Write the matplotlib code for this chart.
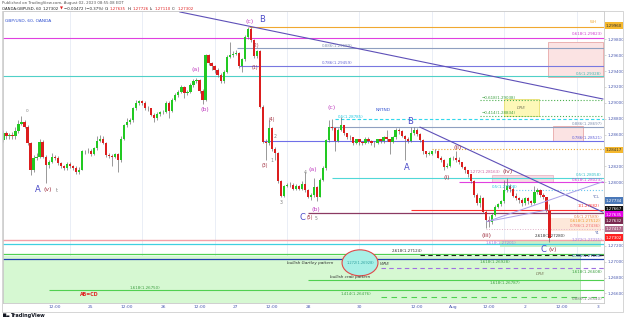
import numpy as np
import matplotlib
matplotlib.use("Agg")
import matplotlib.pyplot as plt
from matplotlib.patches import Rectangle, Ellipse

# ---------------- data (GBP/USD 60 min, OANDA) ----------------
open_first = 1.2853
closes = [1.2862, 1.2858, 1.2860, 1.2858, 1.2864, 1.2874, 1.2876, 1.2870, 1.2849, 1.2816,
          1.2831, 1.2832, 1.2851, 1.2832, 1.2822, 1.2826, 1.2832, 1.2831, 1.2824, 1.2820,
          1.2818, 1.2823, 1.2820, 1.2818, 1.2813, 1.2816, 1.2839, 1.2839, 1.2840, 1.2836,
          1.2843, 1.2852, 1.2855, 1.2850, 1.2834, 1.2833, 1.2832, 1.2835, 1.2828, 1.2855,
          1.2872, 1.2876, 1.2878, 1.2893, 1.2900, 1.2902, 1.2900, 1.2893, 1.2893, 1.2885,
          1.2881, 1.2886, 1.2888, 1.2889, 1.2900, 1.2890, 1.2904, 1.2910, 1.2914, 1.2920,
          1.2912, 1.2914, 1.2923, 1.2928, 1.2929, 1.2915, 1.2904, 1.2960, 1.2950, 1.2946,
          1.2941, 1.2935, 1.2927, 1.2939, 1.2958, 1.2960, 1.2962, 1.2963, 1.2946, 1.2955,
          1.2983, 1.2993, 1.2979, 1.2959, 1.2965, 1.2895, 1.2851, 1.2849, 1.2868, 1.2842,
          1.2837, 1.2801, 1.2783, 1.2795, 1.2796, 1.2797, 1.2791, 1.2795, 1.2791, 1.2798,
          1.2790, 1.2781, 1.2784, 1.2794, 1.2782, 1.2803, 1.2818, 1.2853, 1.2870, 1.2868,
          1.2852, 1.2866, 1.2872, 1.2862, 1.2857, 1.2857, 1.2849, 1.2854, 1.2851, 1.2849,
          1.2855, 1.2852, 1.2849, 1.2850, 1.2854, 1.2852, 1.2857, 1.2854, 1.2851, 1.2857,
          1.2866, 1.2865, 1.2858, 1.2854, 1.2852, 1.2862, 1.2866, 1.2861, 1.2853, 1.2839,
          1.2836, 1.2836, 1.2839, 1.2840, 1.2831, 1.2828, 1.2819, 1.2821, 1.2830, 1.2831,
          1.2828, 1.2825, 1.2819, 1.2815, 1.2810, 1.2801, 1.2784, 1.2774, 1.2780, 1.2763,
          1.2753, 1.2750, 1.2759, 1.2769, 1.2773, 1.2776, 1.2790, 1.2795, 1.2792, 1.2783,
          1.2780, 1.2778, 1.2774, 1.2780, 1.2776, 1.2774, 1.2788, 1.2790, 1.2784, 1.2781,
          1.27635, 1.27302]
highs = [1.2866, 1.2864, 1.2862, 1.2863, 1.2870, 1.2878, 1.2883, 1.2878, 1.2872, 1.2851,
         1.2834, 1.2837, 1.2855, 1.2853, 1.2834, 1.2828, 1.2837, 1.2834, 1.2833, 1.2826,
         1.2822, 1.2825, 1.2825, 1.2822, 1.2820, 1.2819, 1.2841, 1.2841, 1.2843, 1.2842,
         1.2845, 1.2858, 1.2860, 1.2858, 1.2851, 1.2837, 1.2836, 1.2837, 1.2837, 1.2858,
         1.2874, 1.2881, 1.2881, 1.2895, 1.2904, 1.2904, 1.2904, 1.2902, 1.2896, 1.2894,
         1.2887, 1.2888, 1.2890, 1.2891, 1.2902, 1.2902, 1.2906, 1.2913, 1.2916, 1.2922,
         1.2921, 1.2916, 1.2925, 1.2930, 1.2931, 1.2930, 1.2917, 1.2962, 1.2962, 1.2952,
         1.2948, 1.2944, 1.2937, 1.2941, 1.2960, 1.2977, 1.2965, 1.2966, 1.2964, 1.2957,
         1.2986, 1.2996, 1.2995, 1.2981, 1.2967, 1.2967, 1.2897, 1.2855, 1.2878, 1.2870,
         1.2845, 1.2838, 1.2803, 1.2797, 1.2799, 1.2800, 1.2799, 1.2798, 1.2797, 1.2801,
         1.2813, 1.2791, 1.2786, 1.2805, 1.2795, 1.2805, 1.2821, 1.2855, 1.2879, 1.2880,
         1.2870, 1.2868, 1.2882, 1.2872, 1.2862, 1.2860, 1.2857, 1.2855, 1.2855, 1.2852,
         1.2857, 1.2857, 1.2853, 1.2852, 1.2855, 1.2855, 1.2858, 1.2866, 1.2855, 1.2858,
         1.2868, 1.2868, 1.2866, 1.2860, 1.2857, 1.2870, 1.2870, 1.2868, 1.2862, 1.2854,
         1.2840, 1.2839, 1.2840, 1.2842, 1.2841, 1.2833, 1.2829, 1.2824, 1.2832, 1.2833,
         1.2840, 1.2832, 1.2826, 1.2821, 1.2816, 1.2811, 1.2803, 1.2786, 1.2784, 1.2782,
         1.2765, 1.2757, 1.2761, 1.2771, 1.2774, 1.2778, 1.2803, 1.2805, 1.2798, 1.2794,
         1.2786, 1.2782, 1.2780, 1.2782, 1.2782, 1.2778, 1.2795, 1.2793, 1.2791, 1.2786,
         1.2782, 1.27726]
lows = [1.2851, 1.2855, 1.2855, 1.2854, 1.2855, 1.2862, 1.2872, 1.2868, 1.2847, 1.2809,
        1.2813, 1.2828, 1.2830, 1.2830, 1.2799, 1.2818, 1.2824, 1.2828, 1.2822, 1.2818,
        1.2816, 1.2816, 1.2818, 1.2816, 1.2811, 1.2811, 1.2815, 1.2836, 1.2837, 1.2833,
        1.2834, 1.2841, 1.2851, 1.2848, 1.2832, 1.2830, 1.2820, 1.2830, 1.2813, 1.2826,
        1.2853, 1.2870, 1.2874, 1.2876, 1.2891, 1.2897, 1.2897, 1.2891, 1.2890, 1.2883,
        1.2876, 1.2879, 1.2884, 1.2886, 1.2887, 1.2881, 1.2889, 1.2902, 1.2908, 1.2912,
        1.2906, 1.2910, 1.2912, 1.2920, 1.2925, 1.2913, 1.2899, 1.2902, 1.2948, 1.2942,
        1.2938, 1.2933, 1.2925, 1.2925, 1.2937, 1.2956, 1.2958, 1.2960, 1.2944, 1.2939,
        1.2953, 1.2981, 1.2977, 1.2956, 1.2957, 1.2893, 1.2849, 1.2828, 1.2847, 1.2840,
        1.2828, 1.2799, 1.2781, 1.2782, 1.2794, 1.2794, 1.2790, 1.2790, 1.2790, 1.2790,
        1.2788, 1.2780, 1.2778, 1.2782, 1.2776, 1.2781, 1.2801, 1.2815, 1.2851, 1.2866,
        1.2839, 1.2851, 1.2865, 1.2860, 1.2855, 1.2853, 1.2847, 1.2848, 1.2847, 1.2847,
        1.2848, 1.2850, 1.2847, 1.2845, 1.2848, 1.2850, 1.2850, 1.2852, 1.2836, 1.2850,
        1.2855, 1.2861, 1.2857, 1.2828, 1.2849, 1.2851, 1.2860, 1.2858, 1.2851, 1.2836,
        1.2832, 1.2834, 1.2834, 1.2837, 1.2830, 1.2826, 1.2816, 1.2818, 1.2819, 1.2828,
        1.2826, 1.2823, 1.2818, 1.2812, 1.2807, 1.2799, 1.2782, 1.2771, 1.2769, 1.2761,
        1.2742, 1.2744, 1.2748, 1.2757, 1.2767, 1.2770, 1.2774, 1.2788, 1.2788, 1.2781,
        1.2778, 1.2774, 1.2770, 1.2771, 1.2773, 1.2771, 1.2773, 1.2785, 1.2782, 1.2779,
        1.2763, 1.2725]

time_tick_bars = [17, 29, 41, 53, 65, 77, 89, 101, 118, 137, 149, 161, 173, 185, 197]
time_tick_labels = ["12:00", "25", "12:00", "26", "12:00", "27", "12:00", "28", "30",
                    "12:00", "Aug", "12:00", "2", "12:00", "3"]
session_bars = [22, 46, 70, 94, 118, 142, 166, 190]
price_ticks = [1.298, 1.296, 1.294, 1.292, 1.290, 1.288, 1.286, 1.282, 1.280,
               1.272, 1.270, 1.268, 1.266]

# horizontal drawing levels (price) and where they start (bar index)
level_prices = [1.29960, 1.29823, 1.29689, 1.29459, 1.29339, 1.29038, 1.28834, 1.28797,
                1.28697, 1.28524, 1.28417, 1.28050, 1.28008, 1.27903, 1.27651, 1.27613,
                1.27412, 1.27278, 1.27220, 1.27100, 1.27038, 1.27080, 1.26925, 1.26770,
                1.26644, 1.26556]
level_start_bars = [81.5, -1, 77.5, 78, -1, 158, 158, 110, 108, 86, 142, 109, 151, 166,
                    135, 101, 160, -1, -1, -1, -1, 138, 125, 101, 15, 125]
level_styles = [('#f0a830', '-', 0.8), ('#e040e0', '-', 0.8), ('#8fa0c0', '-', 0.8),
                ('#7878e0', '-', 0.8), ('#50d0c8', '-', 0.8), ('#4caf50', ':', 0.8),
                ('#4caf50', ':', 0.8), ('#30d8ec', (0, (3, 2)), 0.8), ('#8fa0c0', '-', 0.8),
                ('#6f6fe8', '-', 0.8), ('#f0a830', ':', 0.8), ('#50d8d8', '-', 0.8),
                ('#e040e0', '-', 0.8), ('#70c8f0', ':', 0.8), ('#ff3030', '-', 0.8),
                ('#8b3a62', '-', 0.9), ('#e0b0c8', ':', 0.7), ('#f4a0a8', '-', 1.0),
                ('#40d0e0', '-', 0.9), ('#50d050', '-', 0.9), ('#2040b0', '-', 0.9),
                ('#202020', (0, (4, 3)), 0.8), ('#a070e0', (0, (4, 3)), 0.8),
                ('#50d050', '-', 0.8), ('#50d050', '-', 0.8), ('#50d050', (0, (5, 4)), 0.8)]

# trend lines: (bar0, price0, bar1, price1)
trend_lines = [(58.5, 1.30145, 198.7, 1.29049),
               (138.1, 1.28694, 198.7, 1.27624),
               (160.3, 1.27505, 198.7, 1.28008),
               (160.3, 1.27505, 180.2, 1.27651)]
trend_styles = [('#5e50b8', 0.8), ('#5e50b8', 0.8), ('#a8a0e8', 0.7), ('#a8a0e8', 0.7)]

# zones: (bar0, bar1, price_low, price_high)
zones = [(180.5, 198.7, 1.29326, 1.29767), (166.0, 177.5, 1.28835, 1.29043),
         (182.2, 192.1, 1.28519, 1.28708), (162.0, 182.2, 1.28004, 1.28092),
         (181.0, 198.0, 1.27387, 1.27550), (164.6, 198.0, 1.27190, 1.27260),
         (166.3, 189.8, 1.26753, 1.26917), (-1.0, 191.1, 1.26000, 1.27070)]
zone_styles = [('#fbe3e3', '#e8a8a8'), ('#fdf8b8', '#e8e070'), ('#fbe3e3', '#e8a8a8'),
               ('#f6dbe3', '#e8b8c8'), ('#fde8da', 'none'), ('#c8f0c8', 'none'),
               ('#f2f7a8', '#dde070'), ('#d6f8d2', 'none')]

# ---------------- figure ----------------
W, H = 625, 320
fig = plt.figure(figsize=(W / 100, H / 100), dpi=100)
fig.patch.set_facecolor('white')
ax = fig.add_axes([3 / W, 1 - 303 / H, (604 - 3) / W, (303 - 11) / H])
ax.set_xlim(-0.13, 199.07)
ax.set_ylim(1.26480, 1.30157)

for b in session_bars:
    ax.axvline(b, color='#e6ebf5', lw=0.6, zorder=0)

for (b0, b1, p0, p1), (fc, ec) in zip(zones, zone_styles):
    ax.add_patch(Rectangle((b0, p0), b1 - b0, p1 - p0, fc=fc, ec=ec, lw=0.6, zorder=0.5))
ax.vlines(191.1, 1.2600, 1.2707, color='#a8e0a8', lw=0.6, zorder=0.6)

for p, s, (c, ls, lw) in zip(level_prices, level_start_bars, level_styles):
    ax.hlines(p, s, 200, colors=c, linestyles=[ls], lw=lw, zorder=1)

for (b0, p0, b1, p1), (c, lw) in zip(trend_lines, trend_styles):
    ax.plot([b0, b1], [p0, p1], color=c, lw=lw, zorder=4)

# gartley ellipse
ax.add_patch(Ellipse((118.2, 1.26986), 11.9, 0.00327, fc='#a8f0e6', ec='#e04848',
                     lw=0.8, zorder=1.5))

# candles
c = np.array(closes)
h = np.array(highs)
l = np.array(lows)
o = np.array([open_first] + closes[:-1])
x = np.arange(len(c))
up = c >= o
body_col = np.where(up, '#22c922', '#dc1e1e')
ax.vlines(x, l, h, colors='#707070', lw=0.5, zorder=2)
ax.bar(x, np.maximum(np.abs(c - o), 0.00003), bottom=np.minimum(o, c), width=0.74,
       color=body_col, edgecolor='none', zorder=2.5)

# axes styling
ax.yaxis.tick_right()
ax.set_yticks(price_ticks)
ax.set_yticklabels([f"{v:.5f}" for v in price_ticks])
ax.tick_params(axis='y', length=1.5, width=0.4, pad=0.8, labelsize=3.0, colors='#b8b8b8',
               labelcolor='#4a5ab0')
ax.set_xticks(time_tick_bars)
ax.set_xticklabels(time_tick_labels)
ax.tick_params(axis='x', length=0, pad=1.6, labelsize=3.2, labelcolor='#4a5ab0')
for sp in ax.spines.values():
    sp.set_color('#c8c8c8')
    sp.set_linewidth(0.6)

# outer frame of the price/time axis
fig.add_artist(Rectangle((2 / W, 1 - 312 / H), 621 / W, 301 / H, transform=fig.transFigure,
                         fill=False, ec='#cfcfcf', lw=0.6))


def ftxt(px, py, s, size=3.2, color='#333333', ha='left', **kw):
    return fig.text(px / W, 1 - py / H, s, fontsize=size, color=color, ha=ha, va='center', **kw)


renderer = fig.canvas.get_renderer()


def seq_text(px, py, pieces, size=2.8, gap=1.2):
    cur = px
    for s, col in pieces:
        t = ftxt(cur, py, s, size=size, color=col)
        bb = t.get_window_extent(renderer=renderer)
        cur += bb.width + gap


# header
ftxt(2, 3, "Published on TradingView.com, August 02, 2023 08:55:08 EDT", size=2.8, color='#555555')
seq_text(2, 9, [("OANDA:GBPUSD, 60", '#222222'), ("1.27302", '#222222'), ("\u25BC", '#e02020'),
                ("\u22120.00472 (\u22120.37%)", '#222222'), ("O:", '#222222'), ("1.27635", '#e02020'),
                ("H:", '#222222'), ("1.27726", '#e02020'), ("L:", '#222222'), ("1.27110", '#e02020'),
                ("C:", '#222222'), ("1.27302", '#e02020')])
ftxt(5, 21, "GBP/USD, 60, OANDA", size=3.2, color='#3050d0')
ftxt(3, 315, "\u2587\u2583", size=3.0, color='#131722')
ftxt(11, 315, "TradingView", size=3.6, color='#131722', weight='bold')

# right axis boxes
boxes = [("1.29960", 25.7, '#f5b82e', '#333333'), ("1.28417", 150, '#f5b82e', '#333333'),
         ("1.27734", 200.7, '#4a78b8', 'white'), ("1.27667", 209.3, '#111111', 'white'),
         ("1.27635", 214.7, '#e600e6', 'white'), ("1.27632", 220.7, '#7a2a50', 'white'),
         ("1.27417", 229, '#b06a8a', 'white'), ("1.27302", 237.7, '#ff2020', 'white')]
for s, py, fc, tc in boxes:
    fig.text(606 / W, 1 - py / H, s, fontsize=2.9, color=tc, ha='left', va='center',
             bbox=dict(boxstyle='square,pad=0.3', fc=fc, ec='none'))

# fib / pattern labels
fib_labels = [
    ("WH", 590, 22, '#f0a830', 'left'), ("0.618(1.29823)", 602, 34, '#d040d0', 'right'),
    ("0.886(1.29689)", 322, 46, '#7f90b0', 'left'), ("0.786(1.29459)", 322, 63.5, '#6868d8', 'left'),
    ("0.5(1.29328)", 602, 74, '#40b8b0', 'right'), ("\u22120.618(1.29038)", 482, 98, '#3ca040', 'left'),
    ("\u22120.414(1.28834)", 482, 113, '#3ca040', 'left'), ("0.5(1.28785)", 338, 117, '#20c8e0', 'left'),
    ("0.886(1.28697)", 602, 124, '#7f90b0', 'right'), ("0.786(1.28521)", 602, 138, '#6060d8', 'right'),
    ("1.272(1.28163)", 470, 172, '#d060a0', 'left'), ("0.5(1.28058)", 602, 175, '#30c0c8', 'right'),
    ("0.618(1.28023)", 602, 180, '#d040d0', 'right'), ("0.5(1.27908)", 492, 187, '#20c0e0', 'left'),
    ("YCL", 592, 197, '#6070b0', 'left'), ("1(1.27682)", 600, 206, '#ff3030', 'right'),
    ("0.5(1.27589)", 600, 217, '#f08040', 'right'), ("0.618(1.27512)", 600, 221.5, '#f0a030', 'right'),
    ("0.786(1.27436)", 600, 226, '#f07070', 'right'), ("Y1", 594, 233, '#6070b0', 'left'),
    ("2.618(1.27280)", 535, 236, '#333333', 'left'), ("1.272(1.27221)", 602, 240, '#a080e0', 'right'),
    ("1.618(1.27201)", 486, 243, '#a080e0', 'left'), ("2.618(1.27124)", 392, 251, '#333333', 'left'),
    ("0.786(1.27030)", 602, 256, '#2040b0', 'right'), ("1.618(1.26928)", 480, 262, '#3ca040', 'left'),
    ("1.618(1.26608)", 602, 272, '#3ca040', 'right'), ("1.618(1.26787)", 490, 283, '#3ca040', 'left'),
    ("1.618(1.26750)", 130, 288, '#3ca040', 'left'), ("1.414(1.26476)", 341, 294, '#3ca040', 'left'),
    ("0.886(1.26540)", 602, 299, '#808080', 'right'),
]
for s, px, py, col, ha in fib_labels:
    ftxt(px, py, s, size=2.9, color=col, ha=ha)

ftxt(521, 108, "DRE", size=3.2, color='#808060', ha='center', style='italic')
ftxt(540, 274, "DRE", size=3.2, color='#808060', ha='center', style='italic')
ftxt(287, 263, "bullish Gartley pattern", size=3.0, color='#303030', style='italic')
ftxt(347, 263, "1.272(1.26928)", size=2.6, color='#30a0a0')
ftxt(380, 264, "WRE", size=3.2, color='#404040', style='italic')
ftxt(330, 277, "bullish crab pattern", size=3.0, color='#303030', style='italic')
ftxt(80, 294, "AB=CD", size=3.4, color='#e02020', weight='bold')
ftxt(376, 110, "NRTND", size=3.2, color='#3050d0')

# wave labels
BL, MG, RB, GR = '#4a4ac8', '#c040c0', '#a03040', '#808080'
wave_labels = [
    ("A", 38, 190, BL, 6.0), ("(v)", 48, 190, RB, 4.5), ("t", 57, 190, GR, 3.5),
    ("0", 27, 111, GR, 3.0), ("(a)", 196, 69, MG, 4.5), ("(b)", 205, 110, MG, 4.5),
    ("(c)", 250, 21, MG, 4.5), ("B", 262, 19, BL, 6.0), ("(2)", 256, 45, RB, 3.3),
    ("(1)", 255, 68, RB, 3.3), ("(4)", 272, 120, RB, 3.3), ("2", 275, 136, GR, 3.3),
    ("1", 272, 160, GR, 3.3), ("(3)", 265, 166, RB, 3.3), ("3", 281, 202, GR, 3.3),
    ("4", 305, 172, GR, 3.3), ("(a)", 313, 170, MG, 4.5), ("(b)", 316, 209, MG, 4.5),
    ("C", 302, 218, BL, 6.0), ("(5)", 310, 218, RB, 3.3), ("5", 316, 218, GR, 3.3),
    ("(c)", 332, 107, MG, 4.5), ("B", 410, 121, BL, 6.0), ("A", 407, 167, BL, 6.0),
    ("(i)", 447, 177, RB, 4.5), ("(ii)", 458, 147, RB, 4.5), ("(iii)", 487, 236, RB, 4.5),
    ("(iv)", 508, 172, RB, 4.5), ("C", 543, 249, BL, 6.0), ("(v)", 553, 249, RB, 4.5),
]
for s, px, py, col, size in wave_labels:
    ftxt(px, py, s, size=size, color=col, ha='center')

fig.savefig("out.png", dpi=100, facecolor='white')
